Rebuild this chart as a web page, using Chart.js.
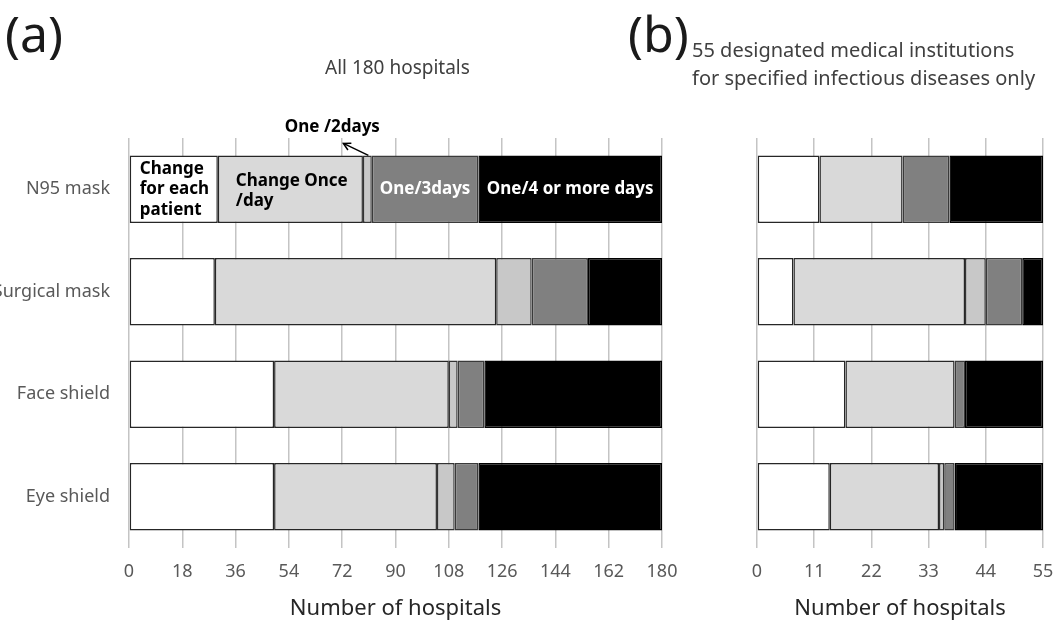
<!DOCTYPE html>
<html>
<head>
<meta charset="utf-8">
<script src="https://cdn.jsdelivr.net/npm/chart.js@4.4.0/dist/chart.umd.min.js"></script>
<style>
  body { margin: 0; background: #fff; }
  #wrap { position: relative; width: 1055px; height: 626px; overflow: hidden; font-family: "Noto Sans", sans-serif; }
  canvas { position: absolute; top: 0; }
  .t { position: absolute; white-space: nowrap; line-height: 1; }
</style>
</head>
<body>
<div id="wrap">
  <canvas id="chart-a" width="700" height="626" style="left:0"></canvas>
  <canvas id="chart-b" width="355" height="626" style="left:700px"></canvas>
  <div class="t" style="left:5px;top:8px;font-size:50px;color:#1a1a1a">(a)</div>
  <div class="t" style="left:325px;top:58px;font-size:19px;color:#404040">All 180 hospitals</div>
  <div class="t" style="left:628px;top:8px;font-size:50px;color:#1a1a1a">(b)</div>
  <div class="t" style="left:692px;top:40px;font-size:20px;color:#404040">55 designated medical institutions</div>
  <div class="t" style="left:692px;top:68px;font-size:20px;color:#404040">for specified infectious diseases only</div>
</div>
<script>
/* ===================================
   DATA
   =================================== */
const categories = ["N95 mask", "Surgical mask", "Face shield", "Eye shield"];
const seriesNames = ["Change for each patient", "Change once/day", "One/2days", "One/3days", "One/4 or more days"];

// (a) all 180 hospitals
const allEachPatient = [30, 29, 49, 49];
const allOncePerDay  = [49, 95, 59, 55];
const allTwoDays     = [3, 12, 3, 6];
const allThreeDays   = [36, 19, 9, 8];
const allFourPlus    = [62, 25, 60, 62];

// (b) 55 designated institutions
const desEachPatient = [12, 7, 17, 14];
const desOncePerDay  = [16, 33, 21, 21];
const desTwoDays     = [0, 4, 0, 1];
const desThreeDays   = [9, 7, 2, 2];
const desFourPlus    = [18, 4, 15, 17];

const ticksA = [0, 18, 36, 54, 72, 90, 108, 126, 144, 162, 180];
const ticksB = [0, 11, 22, 33, 44, 55];

const segmentColors = ["#ffffff", "#d9d9d9", "#c8c8c8", "#808080", "#000000"];
const segmentBorders = ["#262626", "#262626", "#333333", "#3a3a3a", "#000000"];

// labels written inside the N95 bar of panel (a)
const segmentLabels = [["Change", "for each", "patient"], ["Change Once", "/day"], null, ["One/3days"], ["One/4 or more days"]];
const calloutLabel = "One /2days";

/* ===================================
   PLUGINS
   =================================== */
const inBarLabels = {
  id: "inBarLabels",
  afterDatasetsDraw(chart) {
    const ctx = chart.ctx;
    ctx.save();
    ctx.font = "bold 17px 'Noto Sans', sans-serif";
    ctx.textBaseline = "middle";
    segmentLabels.forEach((lines, i) => {
      if (!lines) return;
      const el = chart.getDatasetMeta(i).data[0];
      const left = Math.min(el.base, el.x), right = Math.max(el.base, el.x);
      const lh = 20.5;
      const y0 = el.y - (lines.length - 1) * lh / 2;
      ctx.fillStyle = i >= 3 ? "#ffffff" : "#000000";
      if (i === 0) {
        ctx.textAlign = "left";
        lines.forEach((s, k) => ctx.fillText(s, left + 10, y0 + k * lh));
      } else if (i === 1) {
        ctx.textAlign = "left";
        lines.forEach((s, k) => ctx.fillText(s, left + 18, y0 + k * lh + 2));
      } else {
        ctx.textAlign = "center";
        ctx.fillText(lines[0], (left + right) / 2, el.y);
      }
    });

    // callout for the thin One/2days segment
    const el2 = chart.getDatasetMeta(2).data[0];
    const cx = (el2.base + el2.x) / 2;
    const top = el2.y - el2.height / 2;
    const hx = cx - 24, hy = top - 12;
    ctx.strokeStyle = "#000";
    ctx.lineWidth = 1.5;
    ctx.beginPath();
    ctx.moveTo(cx + 1, top);
    ctx.lineTo(hx, hy);
    ctx.stroke();
    const ang = Math.atan2(hy - top, hx - cx);
    ctx.beginPath();
    ctx.moveTo(hx - 8 * Math.cos(ang - 0.5), hy - 8 * Math.sin(ang - 0.5));
    ctx.lineTo(hx, hy);
    ctx.lineTo(hx - 8 * Math.cos(ang + 0.5), hy - 8 * Math.sin(ang + 0.5));
    ctx.stroke();
    ctx.fillStyle = "#000";
    ctx.textAlign = "center";
    ctx.fillText(calloutLabel, cx - 35, top - 28);
    ctx.restore();
  }
};

/* ===================================
   CHART BUILDER
   =================================== */
function makePanel(canvasId, series, ticks, max, opts) {
  const ctx = document.getElementById(canvasId).getContext("2d");
  const datasets = series.map((values, i) => ({
    label: seriesNames[i],
    data: values,
    backgroundColor: segmentColors[i],
    borderColor: segmentBorders[i],
    borderWidth: 1.5,
    borderSkipped: false,
    categoryPercentage: 1,
    barPercentage: 0.66,
  }));

  return new Chart(ctx, {
    type: "bar",
    data: { labels: categories, datasets: datasets },
    plugins: opts.plugins || [],
    options: {
      indexAxis: "y",
      responsive: false,
      animation: false,
      devicePixelRatio: 1,
      layout: { padding: { top: 138, right: opts.right, bottom: 0, left: 0 } },
      plugins: { legend: { display: false }, tooltip: { enabled: false } },
      scales: {
        x: {
          stacked: true,
          min: 0,
          max: max,
          afterBuildTicks: s => { s.ticks = ticks.map(v => ({ value: v })); },
          // fixed axis box; let the end labels run past the plot edge like the original
          afterFit: s => { s.height = 78; s.paddingLeft = 0; s.paddingRight = 0; },
          grid: { color: "#c4c4c4", lineWidth: 1.5, drawTicks: false },
          border: { display: false },
          ticks: { color: "#595959", font: { family: "'Noto Sans', sans-serif", size: 18 }, padding: 13, maxRotation: 0, autoSkip: false },
          title: { display: true, text: "Number of hospitals", color: "#262626", font: { family: "'Noto Sans', sans-serif", size: 22 }, padding: { top: 0, bottom: 4 } },
        },
        y: {
          stacked: true,
          afterFit: s => { s.width = opts.yWidth; },
          grid: { display: false, drawTicks: false },
          border: { display: false },
          ticks: { display: opts.showY, color: "#595959", font: { family: "'Noto Sans', sans-serif", size: 18 }, padding: 19 },
        },
      },
    },
  });
}

makePanel("chart-a",
  [allEachPatient, allOncePerDay, allTwoDays, allThreeDays, allFourPlus],
  ticksA, 180, { yWidth: 129, right: 38, showY: true, plugins: [inBarLabels] });

makePanel("chart-b",
  [desEachPatient, desOncePerDay, desTwoDays, desThreeDays, desFourPlus],
  ticksB, 55, { yWidth: 57, right: 12, showY: false });
</script>
</body>
</html>
